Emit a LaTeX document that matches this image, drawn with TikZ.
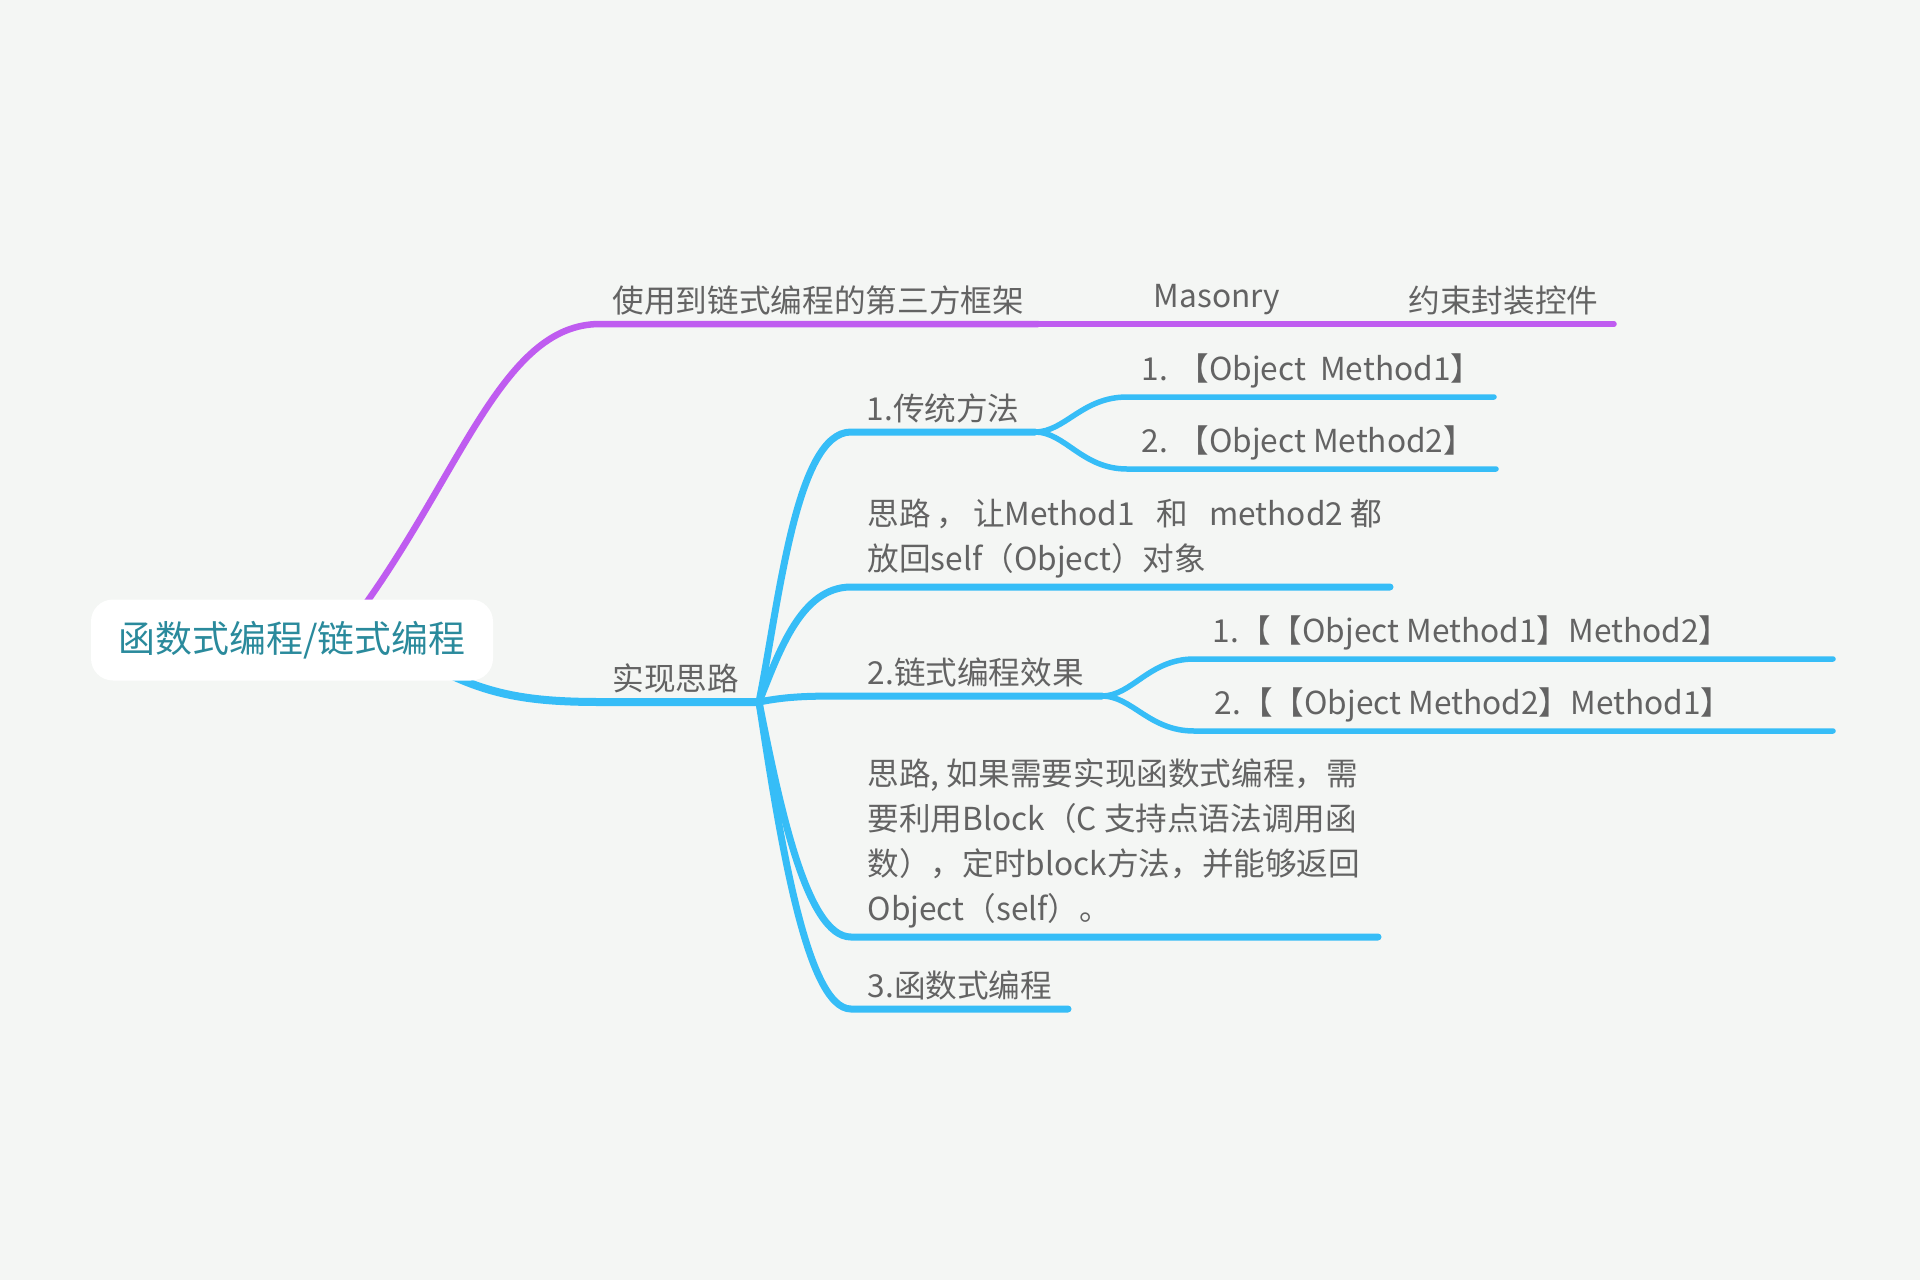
\documentclass[tikz,border=0pt]{standalone}
\usepackage{fontspec}
\setmainfont{Noto Sans CJK SC}
\usepackage{xcolor}
\usetikzlibrary{backgrounds,calc}

\definecolor{bgcol}{HTML}{F4F6F4}
\definecolor{mmpurple}{HTML}{BF5CF0}
\definecolor{mmblue}{HTML}{36BDF7}
\definecolor{txtgray}{HTML}{636363}
\definecolor{roottxt}{HTML}{2A8A9C}

\begin{document}
\begin{tikzpicture}[x=0.1mm,y=-0.1mm,
  every node/.style={font=\fontsize{9pt}{12.8pt}\selectfont,text=txtgray,inner sep=0pt},
  topic/.style={anchor=south west,align=left},
  main/.style={line width=0.7mm,line cap=round,draw=mmblue},
  sub/.style={line width=0.55mm,line cap=round,draw=mmblue},
  framework/.style={line width=0.65mm,line cap=round,draw=mmpurple}]

\useasboundingbox (0,0) rectangle (1920,1280);

%Central topic
\node[fill=white,rounded corners=2.2mm,minimum width=40.2mm,minimum height=8.1mm,
  font=\fontsize{10.5pt}{12pt}\selectfont,text=roottxt] (root) at (292,640) {函数式编程/链式编程};

% Branch points
\coordinate (fw-a) at (350,625);
\coordinate (fw-l) at (600,324);
\coordinate (fw-m1) at (1038,324);
\coordinate (fw-m2) at (1292,324);
\coordinate (fw-r) at (1614,324);

\coordinate (how-a) at (440,670);
\coordinate (how-l) at (600,702);
\coordinate (how-r) at (759,702);

\coordinate (trad-l) at (851,432);
\coordinate (trad-r) at (1035,432);
\coordinate (trad1-l) at (1127,397);
\coordinate (trad1-r) at (1494,397);
\coordinate (trad2-l) at (1127,469);
\coordinate (trad2-r) at (1496,469);

\coordinate (idea1-l) at (851,587);
\coordinate (idea1-r) at (1390,587);

\coordinate (chain-l) at (851,696);
\coordinate (chain-r) at (1102,696);
\coordinate (chain1-l) at (1194,659);
\coordinate (chain1-r) at (1833,659);
\coordinate (chain2-l) at (1194,731);
\coordinate (chain2-r) at (1833,731);

\coordinate (idea2-l) at (851,937);
\coordinate (idea2-r) at (1378,937);

\coordinate (func-l) at (851,1009);
\coordinate (func-r) at (1068,1009);

% Topics
\node[topic] (fw) at (612,316) {使用到链式编程的第三方框架};
\node[topic] (masonry) at (1153,316) {Masonry};
\node[topic] (constraint) at (1408,316) {约束封装控件};

\node[topic] (how) at (612,694) {实现思路};

\node[topic] (trad) at (866,424) {1.传统方法};
\node[topic] (trad1) at (1141,389) {1. 【Object\ \ Method1】};
\node[topic] (trad2) at (1141,461) {2. 【Object Method2】};

\node[topic] (idea1) at (867,579) {思路\,，\,让Method1\ \ \ 和\ \ \ method2 都\\放回self（Object）对象};

\node[topic] (chain) at (867,688) {2.链式编程效果};
\node[topic] (chain1) at (1212,651) {1.【【Object Method1】Method2】};
\node[topic] (chain2) at (1214,723) {2.【【Object Method2】Method1】};

\node[topic] (idea2) at (867,929) {思路, 如果需要实现函数式编程，需\\要利用Block（C 支持点语法调用函\\数），定时block方法，并能够返回\\Object（self）。};

\node[topic] (func) at (867,1001) {3.函数式编程};

% Connections
\begin{scope}[on background layer]
\fill[bgcol] (0,0) rectangle (1920,1280);

\draw[framework] (fw-a) .. controls +(110,-145) and +(-100,0) .. (fw-l) -- (fw-m1);
\draw[framework,line width=0.6mm] (fw-m1) -- (fw-m2);
\draw[framework,line width=0.55mm] (fw-m2) -- (fw-r);

\draw[main,line width=0.8mm] (how-a) .. controls +(50,25) and +(-70,0) .. (how-l) -- (how-r);

\draw[main] (how-r) .. controls +(20,-100) and +(-55,0) .. (trad-l) -- (trad-r);
\draw[sub] (trad-r) .. controls +(30,0) and +(-45,0) .. (trad1-l) -- (trad1-r);
\draw[sub] (trad-r) .. controls +(30,0) and +(-45,0) .. (trad2-l) -- (trad2-r);

\draw[main] (how-r) .. controls +(20,-50) and +(-50,0) .. (idea1-l) -- (idea1-r);

\draw[main] (how-r) .. controls +(30,-6) and +(-40,0) .. (chain-l) -- (chain-r);
\draw[sub] (chain-r) .. controls +(30,0) and +(-45,0) .. (chain1-l) -- (chain1-r);
\draw[sub] (chain-r) .. controls +(30,0) and +(-45,0) .. (chain2-l) -- (chain2-r);

\draw[main] (how-r) .. controls +(20,100) and +(-45,0) .. (idea2-l) -- (idea2-r);
\draw[main] (how-r) .. controls +(20,130) and +(-45,0) .. (func-l) -- (func-r);
\end{scope}

\end{tikzpicture}
\end{document}
